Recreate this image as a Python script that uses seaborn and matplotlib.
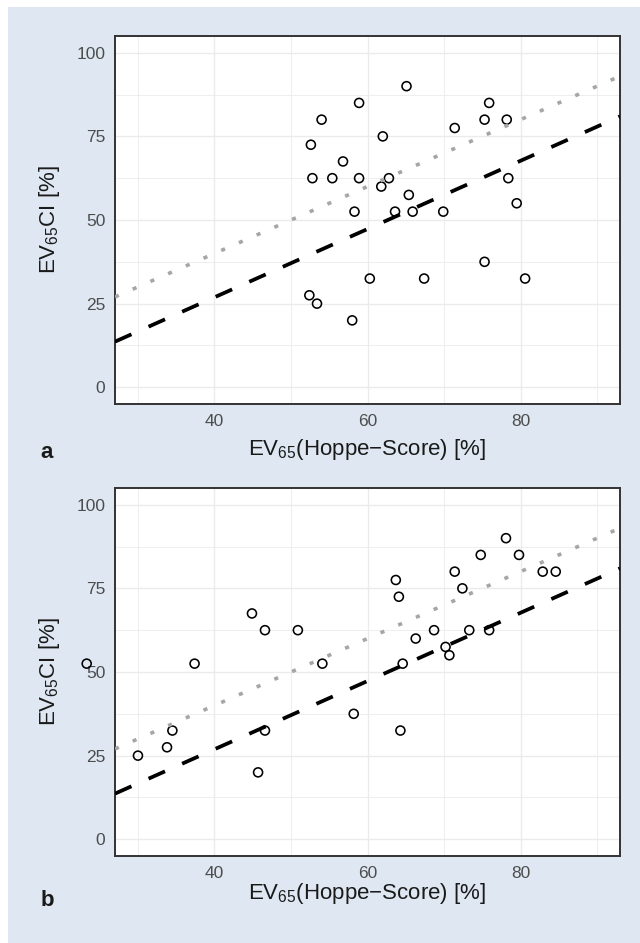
import matplotlib
matplotlib.use("Agg")
import matplotlib.pyplot as plt
import seaborn as sns
import pandas as pd
from matplotlib.patches import Rectangle
from matplotlib.ticker import FixedLocator

# ---- data ----
ci_values = [90, 85, 85, 80, 80, 80, 77.5, 75, 72.5, 67.5, 62.5, 62.5, 62.5, 62.5, 62.5,
             60, 57.5, 55, 52.5, 52.5, 52.5, 52.5, 37.5, 32.5, 32.5, 32.5, 27.5, 25, 20]
hoppe_a = [65.1, 58.9, 75.9, 54.0, 75.3, 78.2, 71.4, 62.0, 52.6, 56.8, 52.8, 55.4, 58.9, 62.8, 78.4,
           61.8, 65.4, 79.5, 58.3, 63.6, 65.9, 69.9, 75.3, 60.3, 67.4, 80.6, 52.4, 53.4, 58.0]
hoppe_b = [78.1, 74.8, 79.8, 71.4, 82.9, 84.6, 63.7, 72.4, 64.1, 44.9, 46.6, 50.9, 68.7, 73.3, 75.9,
           66.3, 70.2, 70.7, 23.3, 37.4, 54.1, 64.6, 58.2, 34.5, 46.6, 64.3, 33.8, 30.0, 45.7]
panel_labels = ["a", "b"]
x_ticks = [40, 60, 80]
y_ticks = [0, 25, 50, 75, 100]
x_minor = [30, 50, 70, 90]
y_minor = [12.5, 37.5, 62.5, 87.5]
identity_slope, identity_intercept = 1.0, 0.0
reg_slope, reg_intercept = 1.02, -13.9

sns.set_style("white")
plt.rcParams["font.family"] = ["Liberation Sans", "DejaVu Sans"]
plt.rcParams["mathtext.fontset"] = "custom"
plt.rcParams["mathtext.rm"] = "Liberation Sans"
plt.rcParams["mathtext.it"] = "Liberation Sans:italic"
plt.rcParams["mathtext.bf"] = "Liberation Sans:bold"

W, H = 640, 943
fig = plt.figure(figsize=(W / 100, H / 100), dpi=100)
fig.patch.set_facecolor("white")
fig.add_artist(Rectangle((8 / W, 0), 1 - 8 / W, 1 - 7 / H, transform=fig.transFigure,
                         facecolor="#dfe8f2", edgecolor="none", zorder=-10))

panels = [
    dict(x=hoppe_a, top=36, bottom=404, xlab_y=450, lab_y=453),
    dict(x=hoppe_b, top=488, bottom=856, xlab_y=894, lab_y=901),
]
left, right = 115, 620

for p, lab in zip(panels, panel_labels):
    ax = fig.add_axes([left / W, 1 - p["bottom"] / H, (right - left) / W, (p["bottom"] - p["top"]) / H])
    ax.set_facecolor("white")
    df = pd.DataFrame({"hoppe": p["x"], "ci": ci_values})
    sns.scatterplot(data=df, x="hoppe", y="ci", ax=ax, marker="o", s=42,
                    facecolor="none", edgecolor="black", linewidth=1.15, zorder=3)
    ax.collections[-1].set_clip_on(False)
    ax.axline((0, identity_intercept), slope=identity_slope, color="#a6a6a6", lw=2.6,
              linestyle=(0, (1.15, 4.2)), dash_capstyle="butt", zorder=4)
    ax.axline((0, reg_intercept), slope=reg_slope, color="black", lw=2.7,
              linestyle=(0, (4.8, 5.0)), dash_capstyle="butt", zorder=5)
    ax.set_xlim(27, 93)
    ax.set_ylim(-5, 105)
    ax.xaxis.set_major_locator(FixedLocator(x_ticks))
    ax.yaxis.set_major_locator(FixedLocator(y_ticks))
    ax.xaxis.set_minor_locator(FixedLocator(x_minor))
    ax.yaxis.set_minor_locator(FixedLocator(y_minor))
    ax.grid(which="major", color="#ebebeb", lw=1.0, zorder=0)
    ax.grid(which="minor", color="#ebebeb", lw=0.6, zorder=0)
    ax.set_axisbelow(True)
    for s in ax.spines.values():
        s.set_color("#333333")
        s.set_linewidth(1.4)
    ax.tick_params(which="major", length=3.4, width=0.9, color="#333333",
                   labelsize=12.5, labelcolor="#4d4d4d", pad=3.5)
    ax.tick_params(which="minor", length=0)
    ax.set_xlabel("EV$_{65}$(Hoppe\u2212Score) [%]", fontsize=16, color="#1a1a1a")
    ax.set_ylabel("EV$_{65}$CI [%]", fontsize=16, color="#1a1a1a")
    ax.xaxis.set_label_coords(0.5, (p["bottom"] - p["xlab_y"]) / (p["bottom"] - p["top"]))
    ax.xaxis.label.set_va("center")
    ax.yaxis.set_label_coords((50 - left) / (right - left), 0.5)
    ax.yaxis.label.set_va("center")
    fig.text(47 / W, 1 - p["lab_y"] / H, lab, fontsize=16, fontweight="bold",
             ha="center", va="center", color="#1a1a1a")

fig.savefig("out.png", dpi=100)
